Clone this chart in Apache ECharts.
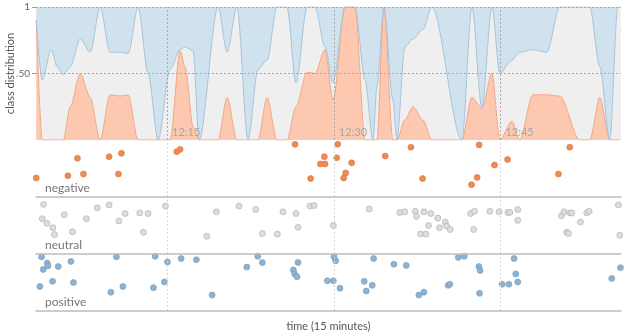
<!DOCTYPE html>
<html><head><meta charset="utf-8">
<script src="https://cdn.jsdelivr.net/npm/echarts@6/dist/echarts.min.js"></script>
<style>html,body{margin:0;padding:0;background:#fff}#c{width:625px;height:333px}</style>
</head><body><div id="c"></div>
<script>
// time in minutes after 12:00
const times = [3.22,3.76,4.57,5.11,5.65,6.28,7.18,8.08,8.97,9.87,10.77,11.49,12.39,13.29,14.19,15.27,16.17,16.62,17.34,17.88,19.59,20.40,21.29,22.28,23.18,23.99,24.89,25.79,26.60,27.59,28.31,29.21,29.93,31.01,31.91,32.81,33.53,33.88,34.51,35.32,35.68,36.40,37.12,38.02,38.83,41.53,42.43,43.33,44.23,44.95,46.03,46.74,47.91,49.17,50.34,52.14,53.04,53.94,54.84,55.56,55.83];
const negativeShare = [0.9,0,0,0,0,0.25,0.5,0.32,0,0.34,0.33,0.34,0,0,0,0,0.67,0.55,0.1,0,0,0.32,0,0,0,0.32,0,0,0.25,0.51,0.5,0.68,0.30,1,1,0,0,0,1,0,0,0.15,0.25,0.15,0,0,0.32,0.24,0.5,0,0.14,0,0.34,0.34,0.33,0,0,0.32,0,0,0];
const neutralShare = [0,0.45,0.68,0.55,0.49,0.30,0.26,0.34,1,0.32,0.33,0.31,1,0.5,0,0.53,0.01,0.15,0.57,0,1,0.34,1,0,0.53,0.28,1,1,0.18,0.49,0.5,0.02,0.13,0,0,0.45,0,0.4,0,0.3,0,0.55,0.51,0.68,1,0,0.68,0,0.5,0.5,0.46,0.66,0.34,0.32,0.67,1,1,0.23,0,1,1];
const positiveShare = [0.1,0.55,0.32,0.45,0.51,0.45,0.24,0.34,0,0.34,0.34,0.35,0,0.5,1,0.47,0.32,0.30,0.33,1,0,0.34,0,1,0.47,0.4,0,0,0.57,0,0,0.3,0.57,0,0,0.55,1,0.6,0,0.7,1,0.30,0.24,0.17,0,1,0,0.76,0,0.5,0.4,0.34,0.32,0.34,0,0,0,0.45,1,0,0];

// individual messages: [minute after 12:00, vertical jitter 0..1]
const negativeDots = [[3.22,0.34],[6.07,0.38],[6.93,0.69],[7.47,0.41],[9.78,0.72],[10.62,0.41],[10.89,0.78],[15.87,0.81],[16.17,0.85],[26.51,0.94],[27.92,0.33],[28.79,0.59],[29.15,0.72],[29.21,0.59],[30.35,0.94],[30.26,0.70],[30.89,0.34],[31.07,0.43],[31.61,0.61],[34.63,0.73],[36.94,0.89],[37.99,0.33],[42.40,0.22],[42.90,0.35],[43.08,0.93],[44.47,0.57],[45.64,0.67],[50.22,0.41],[51.24,0.89]];
const neutralDots = [[3.76,0.62],[3.88,0.87],[4.18,0.54],[4.72,0.46],[4.87,0.34],[5.74,0.69],[6.48,0.39],[7.74,0.62],[8.71,0.81],[9.78,0.86],[10.66,0.58],[11.22,0.71],[12.54,0.72],[12.87,0.38],[13.29,0.71],[14.85,0.84],[18.57,0.31],[19.43,0.74],[21.47,0.84],[22.98,0.78],[23.57,0.36],[24.92,0.35],[25.43,0.74],[26.60,0.71],[26.78,0.47],[27.86,0.84],[28.22,0.85],[29.96,0.50],[33.19,0.79],[35.95,0.73],[36.38,0.74],[37.33,0.75],[37.45,0.66],[37.81,0.35],[38.11,0.74],[38.29,0.35],[38.53,0.50],[38.74,0.71],[39.37,0.63],[39.52,0.46],[40.03,0.56],[40.15,0.49],[40.48,0.43],[42.31,0.71],[42.67,0.75],[42.58,0.43],[44.05,0.75],[44.88,0.74],[45.67,0.73],[45.85,0.73],[46.56,0.78],[46.56,0.59],[50.49,0.67],[50.73,0.74],[50.97,0.38],[51.12,0.36],[51.27,0.72],[51.42,0.72],[52.20,0.56],[52.77,0.72],[52.98,0.75],[55.62,0.86],[55.74,0.33]];
const positiveDots = [[3.55,0.43],[3.70,0.95],[3.85,0.73],[4.21,0.84],[4.27,0.79],[4.69,0.52],[5.20,0.78],[6.34,0.87],[6.57,0.50],[9.94,0.33],[10.44,0.95],[11.02,0.43],[13.77,0.41],[13.92,0.96],[14.76,0.51],[15.03,0.86],[16.26,0.92],[17.63,0.90],[19.05,0.28],[22.17,0.77],[23.16,0.96],[23.57,0.85],[26.36,0.72],[26.48,0.65],[26.69,0.60],[26.78,0.85],[29.42,0.53],[29.96,0.53],[30.02,0.95],[30.17,0.88],[30.56,0.40],[32.74,0.52],[32.92,0.35],[33.46,0.45],[33.59,0.92],[35.41,0.82],[36.52,0.80],[37.66,0.28],[38.11,0.33],[40.30,0.45],[40.45,0.47],[41.20,0.94],[41.74,0.96],[43.06,0.78],[43.17,0.71],[43.12,0.31],[45.15,0.47],[45.76,0.47],[46.23,0.92],[46.38,0.65],[46.56,0.51],[55.02,0.57],[55.80,0.76]];

const tickMinutes = [15, 30, 45];
const timeRange = [3.2, 55.85];
const classNames = ['negative', 'neutral', 'positive'];

const FONT = 'Lato, "Open Sans", sans-serif';
const BASE = Date.UTC(2016, 0, 1, 12, 0, 0);
const ts = m => BASE + m * 60000;
const fmtTime = v => '12:' + String(Math.round((v - BASE) / 60000)).padStart(2, '0');
const pair = arr => times.map((t, i) => [ts(t), arr[i]]);
const dots = arr => arr.map(d => [ts(d[0]), d[1]]);
// approximate interval handed to the time scale so that it settles on quarter hours
const approxTick = 17 * 60000;

const chart = echarts.init(document.getElementById('c'));

const grids = [
  {left: 36, right: 4, top: 7, height: 133},
  {left: 36, right: 4, top: 141, height: 56},
  {left: 36, right: 4, top: 197, height: 57},
  {left: 36, right: 4, top: 254, height: 57}
].map(g => Object.assign(g, {containLabel: false, outerBoundsMode: 'none'}));

const xAxes = grids.map((g, i) => ({
  type: 'time', gridIndex: i, min: ts(timeRange[0]), max: ts(timeRange[1]), z: 10,
  minInterval: approxTick, maxInterval: approxTick,
  axisLine: {show: i > 0, lineStyle: {color: '#bdbdbd', width: 1.5}},
  axisTick: {show: false},
  splitLine: {show: false},
  axisLabel: i === 0 ? {
    show: true, inside: true, formatter: fmtTime, showMinLabel: false, showMaxLabel: false,
    color: '#a8a8a8', fontFamily: FONT, fontSize: 11, align: 'left', margin: 2, padding: [0, 0, 0, 5]
  } : {show: false},
  name: i === 3 ? 'time (15 minutes)' : '',
  nameLocation: 'middle', nameGap: 10,
  nameTextStyle: {color: '#555', fontFamily: FONT, fontSize: 11}
}));

const yAxes = grids.map((g, i) => i === 0 ? {
  type: 'value', gridIndex: 0, min: 0, max: 1, interval: 0.5, z: 10,
  axisLine: {show: false},
  axisTick: {show: true, length: 4, lineStyle: {color: '#999'}},
  axisLabel: {formatter: v => v === 1 ? '1' : (v === 0.5 ? '.50' : ''), showMinLabel: false, color: '#666', fontFamily: FONT, fontSize: 10, margin: 6},
  splitLine: {show: false},
  name: 'class distribution', nameLocation: 'middle', nameRotate: 90, nameGap: 20, nameMoveOverlap: false,
  nameTextStyle: {color: '#555', fontFamily: FONT, fontSize: 11}
} : {
  type: 'value', gridIndex: i, min: 0, max: 1, show: false
});

const vLines = tickMinutes.map(m => ({xAxis: ts(m)}));

const areaSeries = [
  {name: 'negative', data: pair(negativeShare), fill: '#fcc9b0', edge: '#f2a582', ew: 1},
  {name: 'neutral', data: pair(neutralShare), fill: '#efefef', edge: '#a6c3da', ew: 1},
  {name: 'positive', data: pair(positiveShare), fill: '#d0e2ee', edge: '#b9d2e4', ew: 0.5}
].map(s => ({
  type: 'line', name: s.name, xAxisIndex: 0, yAxisIndex: 0, stack: 'dist', stackStrategy: 'all',
  data: s.data, symbol: 'none', smooth: 0.3, smoothMonotone: 'x',
  lineStyle: {color: s.edge, width: s.ew},
  areaStyle: {color: s.fill, opacity: 1},
  silent: true, animation: false
}));

const guide = {
  type: 'line', xAxisIndex: 0, yAxisIndex: 0, data: [[ts(timeRange[0]), null]], symbol: 'none', z: 10,
  silent: true, animation: false,
  markLine: {
    silent: true, symbol: 'none', animation: false, label: {show: false},
    lineStyle: {color: '#a9a9a9', type: [2, 2], width: 1},
    data: vLines.concat([{yAxis: 0.5}, {yAxis: 1}])
  }
};

const dotStyles = [
  {data: negativeDots, color: '#ee8a55', border: '#d9743f'},
  {data: neutralDots, color: '#dddddd', border: '#a9a9a9'},
  {data: positiveDots, color: '#8cb3d1', border: '#7299bb'}
];

const scatterSeries = dotStyles.map((d, k) => ({
  type: 'scatter', name: classNames[k], xAxisIndex: k + 1, yAxisIndex: k + 1,
  data: dots(d.data), symbolSize: 6, animation: false, silent: true,
  itemStyle: {color: d.color, borderColor: d.border, borderWidth: 0.6, opacity: 1},
  markLine: {
    silent: true, symbol: 'none', animation: false, label: {show: false},
    lineStyle: {color: '#d5d5d5', type: [2, 2], width: 1},
    data: vLines
  }
}));

const titles = classNames.map((n, k) => ({
  text: n, left: 40, top: [177, 234, 291][k],
  textStyle: {color: '#777', fontFamily: FONT, fontSize: 12, fontWeight: 'normal'}
}));

chart.setOption({
  animation: false,
  backgroundColor: '#fff',
  title: titles,
  grid: grids,
  xAxis: xAxes,
  yAxis: yAxes,
  series: areaSeries.concat([guide]).concat(scatterSeries)
});
</script></body></html>
